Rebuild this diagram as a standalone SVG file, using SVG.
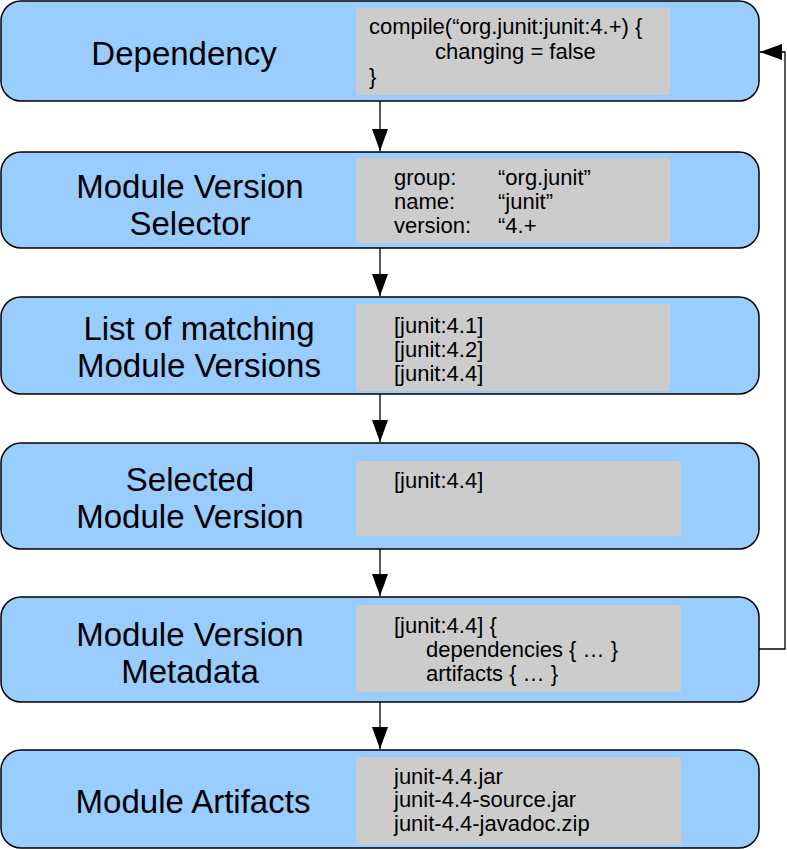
<svg xmlns="http://www.w3.org/2000/svg" width="787" height="850" viewBox="0 0 787 850">
<style>
.box{fill:#99ccff;stroke:#000;stroke-width:1.5}
.code{fill:#cccccc}
.title{font-family:"Liberation Sans",Arial,sans-serif;font-size:33px;fill:#000;text-anchor:middle}
.txt{font-family:"Liberation Sans",Arial,sans-serif;font-size:22px;fill:#000}
.conn{fill:none;stroke:#000;stroke-width:1.3}
</style>
<defs>
<marker id="ah" markerUnits="userSpaceOnUse" markerWidth="22" markerHeight="16" refX="22" refY="8" orient="auto">
<path d="M0,0 L22,8 L0,16 Z" fill="#000"/>
</marker>
</defs>
<rect width="787" height="850" fill="#fff"/>
<g id="connectors">
<line class="conn" x1="380" y1="101" x2="380" y2="151" marker-end="url(#ah)"/>
<line class="conn" x1="380" y1="248" x2="380" y2="296" marker-end="url(#ah)"/>
<line class="conn" x1="380" y1="394" x2="380" y2="442" marker-end="url(#ah)"/>
<line class="conn" x1="380" y1="549" x2="380" y2="596" marker-end="url(#ah)"/>
<line class="conn" x1="380" y1="702" x2="380" y2="749" marker-end="url(#ah)"/>
<path class="conn" d="M759,649 H785 V52 H760" marker-end="url(#ah)"/>
</g>
<g id="dependency">
<rect class="box" x="1" y="1" width="758" height="100" rx="20"/>
<rect class="code" x="356" y="8" width="314" height="87"/>
<text class="title" x="184" y="65">Dependency</text>
<text class="txt" x="369" y="34">compile(“org.junit:junit:4.+) {</text>
<text class="txt" x="435" y="59">changing = false</text>
<text class="txt" x="369" y="84">}</text>
</g>
<g id="selector">
<rect class="box" x="1" y="152" width="758" height="96" rx="20"/>
<rect class="code" x="356" y="158" width="314" height="85"/>
<text class="title" x="190" y="198">Module Version</text>
<text class="title" x="190" y="235">Selector</text>
<text class="txt" x="394" y="185">group:</text>
<text class="txt" x="498" y="185">“org.junit”</text>
<text class="txt" x="394" y="209">name:</text>
<text class="txt" x="498" y="209">“junit”</text>
<text class="txt" x="394" y="233">version:</text>
<text class="txt" x="498" y="233">“4.+</text>
</g>
<g id="matching">
<rect class="box" x="1" y="297" width="758" height="97" rx="20"/>
<rect class="code" x="356" y="304" width="314" height="87"/>
<text class="title" x="199" y="340">List of matching</text>
<text class="title" x="199" y="377">Module Versions</text>
<text class="txt" x="394" y="333">[junit:4.1]</text>
<text class="txt" x="394" y="357">[junit:4.2]</text>
<text class="txt" x="394" y="381">[junit:4.4]</text>
</g>
<g id="selected">
<rect class="box" x="1" y="443" width="758" height="106" rx="20"/>
<rect class="code" x="356" y="461" width="325" height="75"/>
<text class="title" x="190" y="491">Selected</text>
<text class="title" x="190" y="528">Module Version</text>
<text class="txt" x="394" y="488">[junit:4.4]</text>
</g>
<g id="metadata">
<rect class="box" x="1" y="597" width="758" height="105" rx="20"/>
<rect class="code" x="356" y="605" width="325" height="87"/>
<text class="title" x="190" y="646">Module Version</text>
<text class="title" x="190" y="683">Metadata</text>
<text class="txt" x="394" y="633">[junit:4.4] {</text>
<text class="txt" x="426" y="657">dependencies { … }</text>
<text class="txt" x="426" y="681">artifacts { … }</text>
</g>
<g id="artifacts">
<rect class="box" x="1" y="750" width="758" height="98" rx="20"/>
<rect class="code" x="356" y="757" width="325" height="87"/>
<text class="title" x="193" y="813">Module Artifacts</text>
<text class="txt" x="394" y="784">junit-4.4.jar</text>
<text class="txt" x="394" y="807">junit-4.4-source.jar</text>
<text class="txt" x="394" y="831">junit-4.4-javadoc.zip</text>
</g>
</svg>
